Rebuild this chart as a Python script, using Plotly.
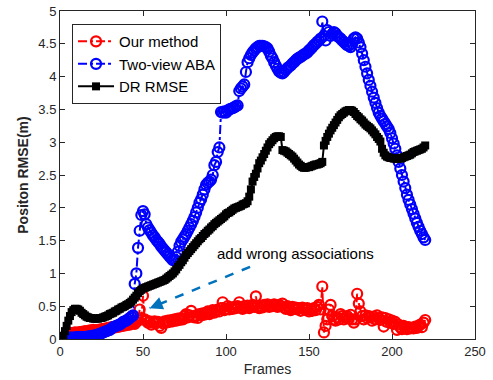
import plotly.graph_objects as go

frames = list(range(1, 221))

our_method = [
0, 0.02, 0.04, 0.06, 0.07, 0.08, 0.09, 0.09, 0.1, 0.09,
0.1, 0.1, 0.11, 0.1, 0.12, 0.11, 0.12, 0.13, 0.12, 0.14,
0.13, 0.12, 0.14, 0.13, 0.15, 0.14, 0.16, 0.15, 0.17, 0.16,
0.18, 0.17, 0.19, 0.18, 0.2, 0.19, 0.21, 0.2, 0.22, 0.21,
0.23, 0.22, 0.24, 0.25, 0.23, 0.26, 0.3, 0.45, 0.3, 0.66,
0.3, 0.28, 0.25, 0.27, 0.22, 0.25, 0.27, 0.24, 0.26, 0.2,
0.17, 0.24, 0.27, 0.25, 0.28, 0.26, 0.29, 0.27, 0.3, 0.28,
0.31, 0.29, 0.32, 0.3, 0.35, 0.38, 0.33, 0.36, 0.43, 0.34,
0.33, 0.36, 0.32, 0.38, 0.36, 0.39, 0.37, 0.4, 0.42, 0.38,
0.41, 0.44, 0.4, 0.43, 0.45, 0.42, 0.47, 0.56, 0.44, 0.46,
0.5, 0.45, 0.48, 0.46, 0.49, 0.47, 0.5, 0.56, 0.48, 0.46,
0.5, 0.48, 0.51, 0.47, 0.5, 0.52, 0.49, 0.65, 0.5, 0.47,
0.5, 0.48, 0.52, 0.5, 0.53, 0.49, 0.51, 0.5, 0.53, 0.51,
0.49, 0.52, 0.5, 0.54, 0.48, 0.46, 0.5, 0.47, 0.44, 0.49,
0.46, 0.48, 0.45, 0.47, 0.43, 0.48, 0.46, 0.44, 0.47, 0.42,
0.45, 0.43, 0.47, 0.44, 0.49, 0.52, 0.45, 0.8, 0.1, 0.2,
0.3, 0.45, 0.52, 0.35, 0.3, 0.28, 0.33, 0.3, 0.38, 0.35,
0.3, 0.33, 0.35, 0.31, 0.37, 0.3, 0.25, 0.3, 0.69, 0.54,
0.42, 0.35, 0.3, 0.36, 0.32, 0.35, 0.33, 0.28, 0.34, 0.3,
0.36, 0.32, 0.29, 0.33, 0.19, 0.32, 0.26, 0.3, 0.25, 0.28,
0.23, 0.26, 0.14, 0.22, 0.18, 0.15, 0.2, 0.17, 0.15, 0.18,
0.16, 0.17, 0.16, 0.19, 0.17, 0.2, 0.22, 0.18, 0.25, 0.29,
]

two_view_aba = [
0, 0.01, 0.01, 0.01, 0.02, 0.02, 0.02, 0.02, 0.02, 0.03,
0.03, 0.03, 0.03, 0.03, 0.03, 0.03, 0.04, 0.04, 0.04, 0.05,
0.05, 0.06, 0.07, 0.08, 0.09, 0.1, 0.11, 0.12, 0.13, 0.14,
0.16, 0.18, 0.19, 0.2, 0.21, 0.22, 0.24, 0.26, 0.27, 0.28,
0.3, 0.32, 0.34, 0.36, 0.84, 1.0, 1.39, 1.65, 1.89, 1.95,
1.9, 1.75, 1.7, 1.66, 1.62, 1.58, 1.55, 1.51, 1.48, 1.45,
1.41, 1.38, 1.35, 1.32, 1.29, 1.26, 1.23, 1.2, 1.21, 1.25,
1.33, 1.42, 1.48, 1.52, 1.56, 1.6, 1.65, 1.7, 1.75, 1.8,
1.86, 1.93, 2.0, 2.08, 2.13, 2.2, 2.28, 2.35, 2.38, 2.4,
2.43, 2.5, 2.65, 2.7, 2.85, 2.92, 3.46, 3.45, 3.47, 3.45,
3.48, 3.5, 3.51, 3.52, 3.53, 3.55, 3.56, 3.78, 3.82, 3.85,
3.88, 4.07, 4.22, 4.28, 4.33, 4.37, 4.4, 4.43, 4.45, 4.47,
4.47, 4.47, 4.46, 4.45, 4.43, 4.38, 4.32, 4.28, 4.22, 4.17,
4.12, 4.08, 4.06, 4.05, 4.07, 4.1, 4.13, 4.15, 4.17, 4.2,
4.22, 4.25, 4.27, 4.29, 4.3, 4.32, 4.34, 4.35, 4.37, 4.4,
4.42, 4.45, 4.48, 4.5, 4.53, 4.55, 4.58, 4.84, 4.62, 4.55,
4.71, 4.68, 4.62, 4.65, 4.68, 4.66, 4.62, 4.6, 4.58, 4.55,
4.53, 4.5, 4.48, 4.47, 4.45, 4.5, 4.58, 4.6, 4.58, 4.52,
4.45, 4.35, 4.25, 4.15, 4.05, 3.95, 3.86, 3.77, 3.68, 3.6,
3.52, 3.45, 3.4, 3.36, 3.32, 3.28, 3.24, 3.2, 3.14, 3.06,
2.98, 2.9, 2.8, 2.7, 2.6, 2.5, 2.4, 2.3, 2.2, 2.12,
2.05, 1.98, 1.91, 1.84, 1.77, 1.71, 1.65, 1.6, 1.55, 1.51,
]

dr_rmse = [
0, 0.05, 0.12, 0.2, 0.28, 0.35, 0.41, 0.44, 0.46, 0.46,
0.45, 0.43, 0.4, 0.38, 0.36, 0.34, 0.33, 0.32, 0.32, 0.31,
0.31, 0.31, 0.31, 0.32, 0.32, 0.33, 0.34, 0.35, 0.36, 0.38,
0.39, 0.4, 0.42, 0.43, 0.45, 0.46, 0.48, 0.49, 0.5, 0.52,
0.53, 0.55, 0.57, 0.6, 0.63, 0.66, 0.7, 0.73, 0.75, 0.77,
0.78, 0.79, 0.8, 0.81, 0.82, 0.83, 0.84, 0.85, 0.86, 0.87,
0.88, 0.89, 0.9, 0.92, 0.94, 0.96, 0.98, 1.0, 1.03, 1.06,
1.1, 1.13, 1.17, 1.2, 1.24, 1.28, 1.31, 1.34, 1.37, 1.4,
1.43, 1.46, 1.49, 1.52, 1.54, 1.57, 1.6, 1.62, 1.65, 1.67,
1.7, 1.72, 1.75, 1.77, 1.79, 1.81, 1.83, 1.85, 1.87, 1.9,
1.92, 1.93, 1.95, 1.97, 1.99, 2.0, 2.01, 2.02, 2.03, 2.05,
2.06, 2.07, 2.1, 2.17, 2.28, 2.4, 2.47, 2.52, 2.6, 2.68,
2.72, 2.77, 2.82, 2.87, 2.92, 2.97, 3.0, 3.03, 3.06, 3.08,
3.09, 3.09, 3.08, 2.88, 2.87, 2.86, 2.84, 2.82, 2.8, 2.78,
2.75, 2.72, 2.69, 2.66, 2.64, 2.62, 2.61, 2.61, 2.62, 2.62,
2.63, 2.64, 2.65, 2.66, 2.66, 2.67, 2.68, 2.7, 2.95, 3.02,
3.08, 3.13, 3.18, 3.22, 3.26, 3.3, 3.34, 3.38, 3.41, 3.43,
3.45, 3.47, 3.48, 3.49, 3.49, 3.48, 3.46, 3.43, 3.4, 3.38,
3.35, 3.33, 3.3, 3.27, 3.25, 3.23, 3.21, 3.18, 3.15, 3.12,
3.08, 3.05, 3.01, 2.9, 2.84, 2.8, 2.78, 2.77, 2.76, 2.76,
2.75, 2.75, 2.75, 2.75, 2.75, 2.76, 2.77, 2.78, 2.79, 2.8,
2.81, 2.83, 2.85, 2.86, 2.87, 2.88, 2.89, 2.9, 2.92, 2.95,
]

x_ticks = [0, 50, 100, 150, 200, 250]
y_ticks = [0, 0.5, 1, 1.5, 2, 2.5, 3, 3.5, 4, 4.5, 5]
y_tick_labels = ["0", "0.5", "1", "1.5", "2", "2.5", "3", "3.5", "4", "4.5", "5"]

annot_text = "add wrong associations"
arrow_tail = (114.5, 1.1)
arrow_head = (54, 0.47)
text_pos = (142, 1.3)

FONT = "Liberation Sans, Arial, sans-serif"

fig = go.Figure()

fig.add_trace(go.Scatter(
    x=frames, y=our_method, name="Our method", mode="lines+markers",
    line=dict(color="#ff0000", width=2, dash="dashdot"),
    marker=dict(symbol="circle-open", size=10, color="#ff0000", line=dict(width=2.2)),
))
fig.add_trace(go.Scatter(
    x=frames, y=two_view_aba, name="Two-view ABA", mode="lines+markers",
    line=dict(color="#0000ff", width=2, dash="dashdot"),
    marker=dict(symbol="circle-open", size=10, color="#0000ff", line=dict(width=2.2)),
))
fig.add_trace(go.Scatter(
    x=frames, y=dr_rmse, name="DR RMSE", mode="lines+markers",
    line=dict(color="#000000", width=2),
    marker=dict(symbol="square", size=8, color="#000000"),
))
# dashed arrow shaft
fig.add_trace(go.Scatter(
    x=[arrow_tail[0], arrow_head[0]], y=[arrow_tail[1], arrow_head[1]],
    mode="lines", showlegend=False, hoverinfo="skip",
    line=dict(color="#0072BD", width=2.5, dash="dash"),
))

fig.add_annotation(
    x=arrow_head[0], y=arrow_head[1], xref="x", yref="y",
    ax=arrow_head[0] + (arrow_tail[0] - arrow_head[0]) * 0.12,
    ay=arrow_head[1] + (arrow_tail[1] - arrow_head[1]) * 0.12,
    axref="x", ayref="y", showarrow=True, arrowhead=2, arrowsize=1.3,
    arrowwidth=2, arrowcolor="#0072BD", text="",
)
fig.add_annotation(
    x=text_pos[0], y=text_pos[1], xref="x", yref="y", text=annot_text,
    showarrow=False, font=dict(family=FONT, size=15, color="#000000"),
)

axis_common = dict(
    showgrid=False, zeroline=False, showline=True, linecolor="#262626", linewidth=1,
    mirror="ticks", ticks="inside", ticklen=5, tickcolor="#262626",
    tickfont=dict(family=FONT, size=13, color="#262626"), automargin=False,
)

fig.update_xaxes(
    range=[0, 250], tickvals=x_ticks,
    title=dict(text="Frames", font=dict(family=FONT, size=14, color="#262626"), standoff=6),
    **axis_common,
)
fig.update_yaxes(
    range=[0, 5], tickvals=y_ticks, ticktext=y_tick_labels,
    title=dict(text="<b>Positon RMSE(m)</b>", font=dict(family=FONT, size=14, color="#262626"), standoff=6),
    **axis_common,
)

fig.update_layout(
    width=493, height=380,
    margin=dict(l=60, r=18, t=11, b=41, autoexpand=False),
    plot_bgcolor="white", paper_bgcolor="white",
    legend=dict(
        x=0.029, y=0.96, xanchor="left", yanchor="top",
        bgcolor="white", bordercolor="#262626", borderwidth=1,
        font=dict(family=FONT, size=15, color="#000000"),
        itemwidth=36, tracegroupgap=0,
    ),
    showlegend=True,
)

fig.write_html("out.html", config={"displayModeBar": False},
               post_script="document.body.style.margin='0';")
